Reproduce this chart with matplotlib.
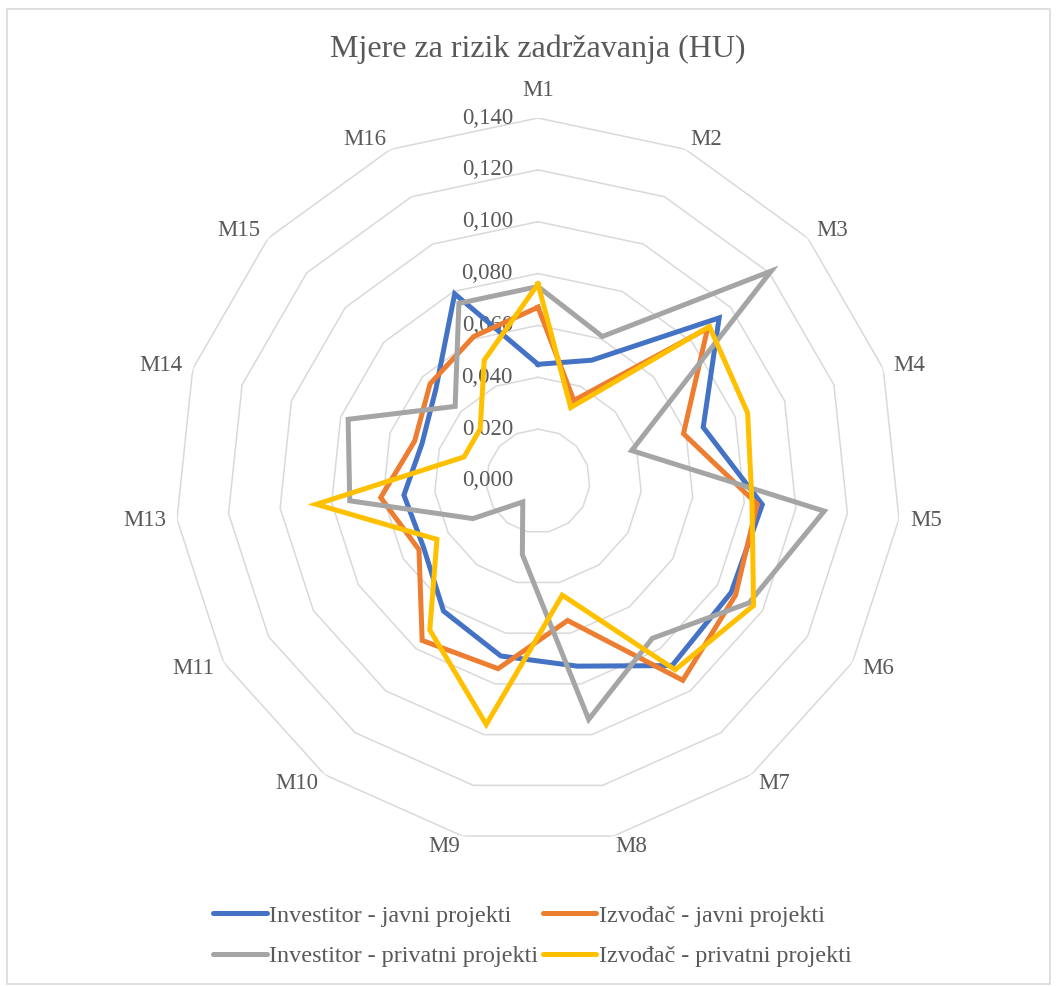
import numpy as np
import matplotlib
matplotlib.use('Agg')
import matplotlib.pyplot as plt
from matplotlib.transforms import offset_copy
from matplotlib.patches import Rectangle
from matplotlib.lines import Line2D

# ---- data ----
categories = ['M1', 'M2', 'M3', 'M4', 'M5', 'M6', 'M7', 'M8', 'M9', 'M10',
              'M11', 'M13', 'M14', 'M15', 'M16']
investitor_javni = [0.045, 0.051, 0.094, 0.067, 0.087, 0.086, 0.088, 0.073,
                    0.069, 0.062, 0.051, 0.052, 0.047, 0.053, 0.079]
izvodac_javni = [0.067, 0.034, 0.088, 0.059, 0.085, 0.088, 0.095, 0.055,
                 0.074, 0.076, 0.053, 0.061, 0.050, 0.056, 0.061]
investitor_privatni = [0.075, 0.061, 0.121, 0.038, 0.111, 0.094, 0.075, 0.094,
                       0.029, 0.010, 0.029, 0.073, 0.077, 0.043, 0.075]
izvodac_privatni = [0.076, 0.031, 0.089, 0.085, 0.083, 0.096, 0.090, 0.045,
                    0.096, 0.071, 0.045, 0.086, 0.030, 0.030, 0.051]
series_names = ['Investitor - javni projekti', 'Izvođač - javni projekti',
                'Investitor - privatni projekti', 'Izvođač - privatni projekti']
tick_values = [0.0, 0.02, 0.04, 0.06, 0.08, 0.10, 0.12, 0.14]
tick_labels = ['0,000', '0,020', '0,040', '0,060', '0,080', '0,100', '0,120', '0,140']
title = 'Mjere za rizik zadržavanja (HU)'

colors = ['#4472C4', '#ED7D31', '#A5A5A5', '#FFC000']
text_color = '#595959'
grid_color = '#D9D9D9'

plt.rcParams['font.family'] = ['Liberation Serif', 'DejaVu Serif']

W, H = 1059, 986
fig = plt.figure(figsize=(W / 100, H / 100), dpi=100)

# border
fig.patches.append(Rectangle((7 / W, 1 - 984 / H), (1050 - 7) / W, (984 - 9) / H,
                             transform=fig.transFigure, fill=False,
                             edgecolor=grid_color, linewidth=1.2))

cx, cy, R = 538, 481, 363
ax = fig.add_axes([(cx - R) / W, 1 - (cy + R) / H, 2 * R / W, 2 * R / H],
                  projection='polar')
ax.set_theta_zero_location('N')
ax.set_theta_direction(-1)
ax.set_ylim(0, 0.14)
ax.set_xticks([])
ax.set_yticks([])
ax.grid(False)
ax.spines['polar'].set_visible(False)
ax.patch.set_alpha(0)

n = len(categories)
theta = np.arange(n) * 2 * np.pi / n
theta_c = np.append(theta, theta[0])

# polygon grid rings
for lv in tick_values[1:]:
    ax.plot(theta_c, [lv] * (n + 1), color=grid_color, lw=1.1, zorder=1)

# radial tick labels
trans = offset_copy(ax.transData, fig=fig, x=-18, y=0, units='points')
for v, lab in zip(tick_values, tick_labels):
    ax.text(0, v, lab, transform=trans, ha='right', va='center',
            fontsize=16.5, color=text_color, zorder=2)

# category labels
scale = R / 0.14
for t, lab in zip(theta, categories):
    s = np.sin(t)
    if abs(s) < 0.05:
        ha, r_px = 'center', 391
    elif s > 0:
        ha, r_px = 'left', 374
    else:
        ha, r_px = 'right', 374
    ax.text(t, r_px / scale, lab, ha=ha, va='center', fontsize=16.5,
            color=text_color)

# series
all_series = [investitor_javni, izvodac_javni, investitor_privatni, izvodac_privatni]
for vals, c in zip(all_series, colors):
    v = np.append(vals, vals[0])
    ax.plot(theta_c, v, color=c, lw=3.6, solid_joinstyle='miter', zorder=3)

fig.text(cx / W, 1 - 49 / H, title, ha='center', va='center', fontsize=23,
         color=text_color)

order = [0, 2, 1, 3]
handles = [Line2D([0], [0], color=colors[i], lw=3.6, solid_capstyle='round') for i in order]
labels = [series_names[i] for i in order]
leg = fig.legend(handles, labels, loc='center', bbox_to_anchor=(0.503, 1 - 936 / H),
                 ncol=2, frameon=False, fontsize=17.4, handlelength=2.2,
                 handletextpad=0.12, columnspacing=0.2, labelspacing=0.75)
for t in leg.get_texts():
    t.set_color(text_color)

fig.savefig('out.png', dpi=100)
